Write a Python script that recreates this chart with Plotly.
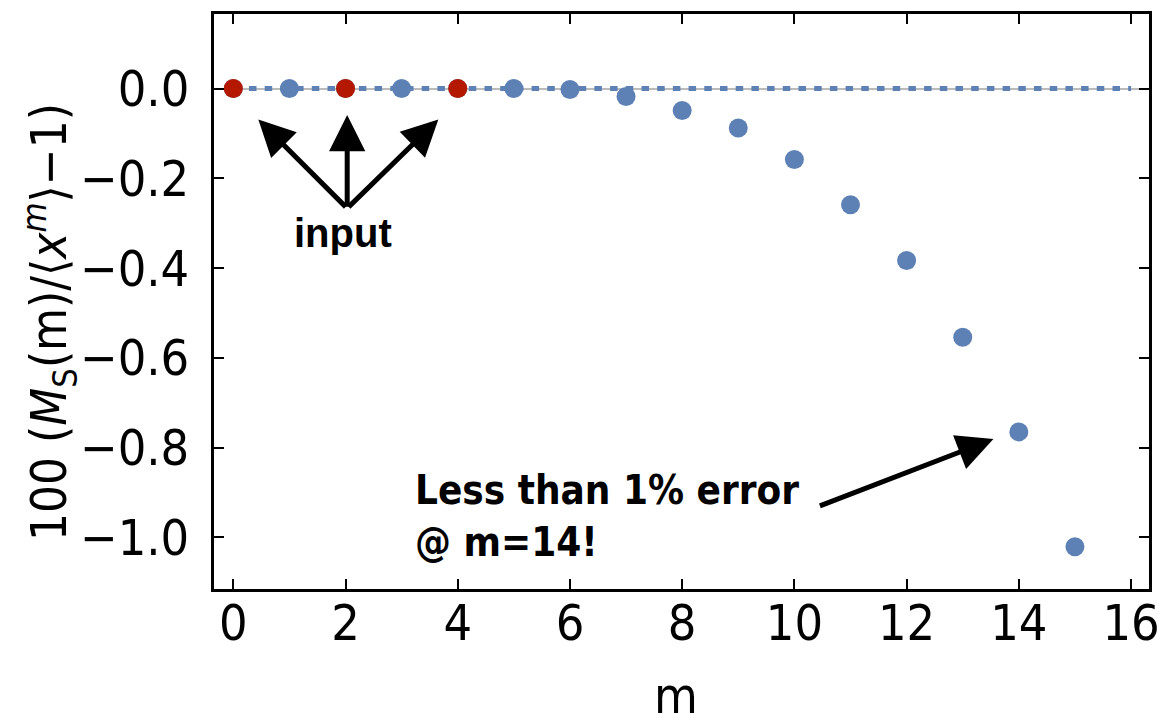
import plotly.graph_objects as go

# ---- data ----
m_vals = list(range(16))
rel_err = [0.0, 0.0, 0.0, 0.0, 0.0, 0.0, -0.002, -0.018, -0.049, -0.088,
           -0.158, -0.259, -0.383, -0.554, -0.765, -1.021]
input_m = [0, 2, 4]
input_err = [0.0, 0.0, 0.0]
ref_x = [0, 16]
ref_y = [0, 0]
x_ticks = [0, 2, 4, 6, 8, 10, 12, 14, 16]
y_ticks = [0.0, -0.2, -0.4, -0.6, -0.8, -1.0]

BLUE = "#5E81B5"
RED = "#B41800"
NARROW = "Liberation Sans Narrow, Arial Narrow, DejaVu Sans Condensed, sans-serif"
SANS = "Liberation Sans, Arial, Helvetica, sans-serif"

fig = go.Figure()
fig.add_trace(go.Scatter(x=ref_x, y=ref_y, mode="lines",
                         line=dict(color=BLUE, width=5, dash="7.5px,8.2px"),
                         hoverinfo="skip", showlegend=False))
fig.add_trace(go.Scatter(x=m_vals, y=rel_err, mode="markers",
                         marker=dict(color=BLUE, size=19, line=dict(width=0)),
                         showlegend=False))
fig.add_trace(go.Scatter(x=input_m, y=input_err, mode="markers",
                         marker=dict(color=RED, size=19, line=dict(width=0)),
                         showlegend=False))

axis_common = dict(showline=True, mirror="ticks", linecolor="black", linewidth=2.5,
                   ticks="inside", ticklen=10, tickwidth=2, tickcolor="black",
                   showgrid=False, tickfont=dict(family=NARROW, size=50, color="black"))

fig.update_xaxes(range=[-0.344, 16.32], tickvals=x_ticks, zeroline=False,
                 ticklabelstandoff=-12, **axis_common)
fig.update_yaxes(range=[-1.115, 0.166], tickvals=y_ticks, tickformat=".1f",
                 zeroline=True, zerolinecolor="#BBBBBB", zerolinewidth=2,
                 ticklabelstandoff=12, **axis_common)

# arrows for "input"
apex = (2.03, -0.267)
tips = [(0.446, -0.069), (2.03, -0.059), (3.654, -0.069)]
for tx, ty in tips:
    fig.add_annotation(x=tx, y=ty, ax=apex[0], ay=apex[1], xref="x", yref="y",
                       axref="x", ayref="y", showarrow=True, arrowhead=2,
                       arrowsize=1.45, arrowwidth=5, arrowcolor="black", text="")
fig.add_annotation(x=1.955, y=-0.321, xref="x", yref="y", text="<b>input</b>",
                   showarrow=False, font=dict(family=SANS, size=40, color="black"),
                   xanchor="center", yanchor="middle")

# arrow for m=14
fig.add_annotation(x=13.547, y=-0.781, ax=10.428, ay=-0.931, xref="x", yref="y",
                   axref="x", ayref="y", showarrow=True, arrowhead=2,
                   arrowsize=1.45, arrowwidth=5, arrowcolor="black", text="")
fig.add_annotation(x=3.2, y=-0.952, xref="x", yref="y",
                   text="<b>Less than 1% error<br>@ m=14!</b>", align="left",
                   showarrow=False, font=dict(family=NARROW, size=40, color="black"),
                   xanchor="left", yanchor="middle")

# axis titles
fig.add_annotation(x=-0.176, y=0.465, xref="paper", yref="paper",
                   text="100 (<i>M</i><sub>S</sub>(m)/⟨<i>x</i><sup><i>m</i></sup>⟩−1)",
                   textangle=-90, showarrow=False,
                   font=dict(family=NARROW, size=49, color="black"),
                   xanchor="center", yanchor="middle")
fig.add_annotation(x=0.494, y=-0.24, xref="paper", yref="paper", text="m",
                   showarrow=False, font=dict(family=NARROW, size=50, color="black"),
                   xanchor="center", yanchor="bottom")

fig.update_layout(width=1176, height=727, autosize=False,
                  margin=dict(l=214, r=27, t=11, b=138),
                  plot_bgcolor="white", paper_bgcolor="white")

fig.write_html("out.html")
